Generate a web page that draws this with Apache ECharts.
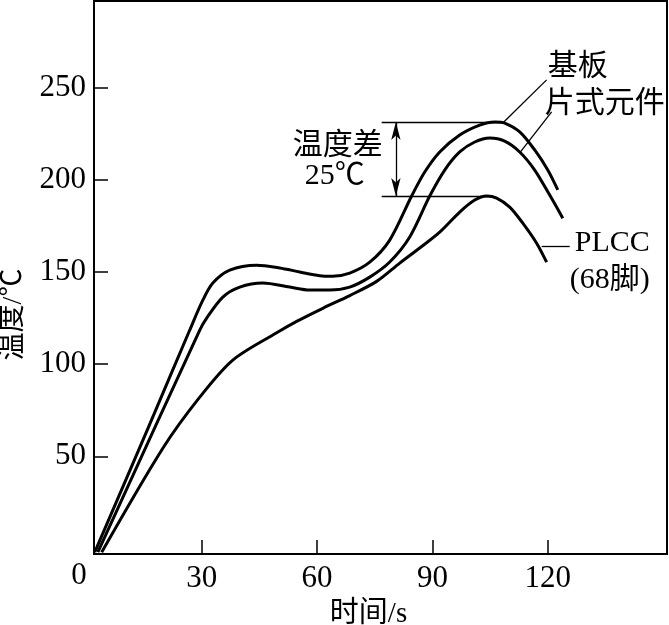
<!DOCTYPE html>
<html><head><meta charset="utf-8">
<script src="https://cdn.jsdelivr.net/npm/echarts@6/dist/echarts.min.js"></script>
<style>html,body{margin:0;padding:0;background:#fff}#c{width:669px;height:625px}</style>
</head><body><div id="c"></div>
<script>
// ---- data ----
const baseT = [2.2, 16.2, 26.9, 30.3, 32.9, 37.3, 44.3, 50.3, 55.5, 60.7, 64.0, 68.5, 73.7, 78.9, 84.6, 88.0, 91.9, 97.1, 102.3, 106.2, 108.8, 112.7, 116.6, 120.0, 122.6];
const baseV = [-2, 66, 118.5, 134.7, 144, 151, 153.7, 152.2, 150, 148, 147.7, 149.4, 155.3, 167.3, 191.2, 204.2, 215.1, 224.3, 229.7, 231.4, 230.8, 226, 216.2, 205.3, 194.5];
const chipT = [3.0, 29.5, 31.3, 35.5, 39.9, 45.9, 52.9, 58.1, 63.3, 68.5, 73.7, 78.9, 84.1, 89.3, 93.2, 97.1, 101.0, 104.9, 108.8, 112.7, 116.6, 120.5, 123.9];
const chipV = [-2, 118.5, 125, 136.4, 141.8, 144, 141.8, 140.2, 140.2, 141.8, 147.2, 155.4, 169, 191.2, 205.3, 215.1, 220.5, 222.7, 221, 215.1, 205.3, 191.7, 179.2];
const plccT = [4.0, 19.9, 29.5, 38.1, 49.5, 54.7, 61.5, 68.5, 75.5, 81.5, 86.7, 91.9, 97.1, 101.0, 104.1, 106.7, 110.1, 113.5, 117.1, 119.7];
const plccV = [-2, 54.4, 82.1, 102.2, 117, 123.2, 130.3, 137.2, 144.9, 154.8, 163, 171.6, 182.5, 189, 191.2, 190.1, 185.2, 176.5, 165.6, 155.3];
const xTicks = [30, 60, 90, 120];
const yTicks = [50, 100, 150, 200, 250];
const xName = '时间/s';
const yName = '温度/℃';
const originLabel = '0';
const seriesNames = ['基板', '片式元件', 'PLCC(68脚)'];

const zip = (a, b) => a.map((v, i) => [v, b[i]]);
const FONT = "'Liberation Serif', 'Noto Sans CJK SC', serif";
const chart = echarts.init(document.getElementById('c'), null, {renderer: 'canvas'});
const X_MIN = 2, X_MAX = 151, Y_MIN = -3, Y_MAX = 297;

const lineSeries = (name, data) => ({
  name, type: 'line', data, smooth: 0.3, showSymbol: false, symbol: 'none',
  lineStyle: {color: '#000', width: 3}, z: 3, silent: true
});

const hl = (x1, x2, y) => [{coord: [x1, y]}, {coord: [x2, y]}];

chart.setOption({
  animation: false,
  grid: {left: 94, right: 2, top: 1, bottom: 71, show: true, borderColor: '#000', borderWidth: 2,
         containLabel: false, outerBoundsMode: 'none'},
  xAxis: {
    type: 'value', min: X_MIN, max: X_MAX,
    name: xName, nameLocation: 'middle', nameGap: 46,
    nameTextStyle: {fontFamily: FONT, fontSize: 29, color: '#000', padding: [0, 24, 0, 0]},
    axisLine: {onZero: false, lineStyle: {color: '#000', width: 2}},
    axisTick: {inside: true, length: 14, lineStyle: {color: '#000', width: 1.5}, customValues: xTicks},
    axisLabel: {customValues: xTicks, fontFamily: FONT, fontSize: 31, color: '#000', margin: 9},
    splitLine: {show: false}
  },
  yAxis: {
    type: 'value', min: Y_MIN, max: Y_MAX,
    name: yName, nameLocation: 'middle', nameGap: 66, nameRotate: 90,
    nameTextStyle: {fontFamily: FONT, fontSize: 28, color: '#000', padding: [0, 74, 0, 0]},
    axisLine: {onZero: false, lineStyle: {color: '#000', width: 2}},
    axisTick: {inside: true, length: 14, lineStyle: {color: '#000', width: 1.5}, customValues: yTicks},
    axisLabel: {customValues: yTicks, fontFamily: FONT, fontSize: 31, color: '#000', margin: 8},
    splitLine: {show: false}
  },
  series: [
    lineSeries(seriesNames[0], zip(baseT, baseV)),
    lineSeries(seriesNames[1], zip(chipT, chipV)),
    lineSeries(seriesNames[2], zip(plccT, plccV)),
    {
      type: 'line', data: [], silent: true,
      markLine: {
        silent: true, symbol: 'none', animation: false,
        lineStyle: {color: '#000', width: 1.3, type: 'solid'},
        label: {show: false},
        data: [
          hl(76.8, 108.3, 231.4),
          hl(76.8, 104.4, 191.2),
          [{coord: [108.3, 230.8]}, {coord: [119.7, 254.2]}],
          [{coord: [112.7, 214.6]}, {coord: [121.0, 236.8]}],
          [{coord: [118.4, 164.0]}, {coord: [125.7, 164.0]}],
          [{coord: [80.5, 231.4], symbol: 'arrow', symbolSize: [7, 18]}, {coord: [80.5, 191.2], symbol: 'arrow', symbolSize: [7, 18]}]
        ]
      }
    }
  ]
});

const notes = [
  {text: '基板', at: [127.8, 261.2], align: 'center'},
  {text: '片式元件', at: [134.8, 241.1], align: 'center'},
  {text: '温度差', at: [65.4, 218.3], align: 'center'},
  {text: '25℃', at: [64.6, 202.1], align: 'center'},
  {text: 'PLCC', at: [127.0, 165.7], align: 'left'},
  {text: '(68脚)', at: [125.7, 145.6], align: 'left'}
];
const g = notes.map(n => {
  const p = chart.convertToPixel({gridIndex: 0}, n.at);
  return {type: 'text', x: p[0], y: p[1], silent: true,
    style: {text: n.text, font: '30px ' + FONT, fill: '#000', align: n.align, verticalAlign: 'middle'}};
});
const o = chart.convertToPixel({gridIndex: 0}, [X_MIN, Y_MIN]);
g.push({type: 'text', x: o[0] - 15, y: o[1] + 22, silent: true,
  style: {text: originLabel, font: '31px ' + FONT, fill: '#000', align: 'center', verticalAlign: 'middle'}});
chart.setOption({graphic: g});
</script></body></html>
